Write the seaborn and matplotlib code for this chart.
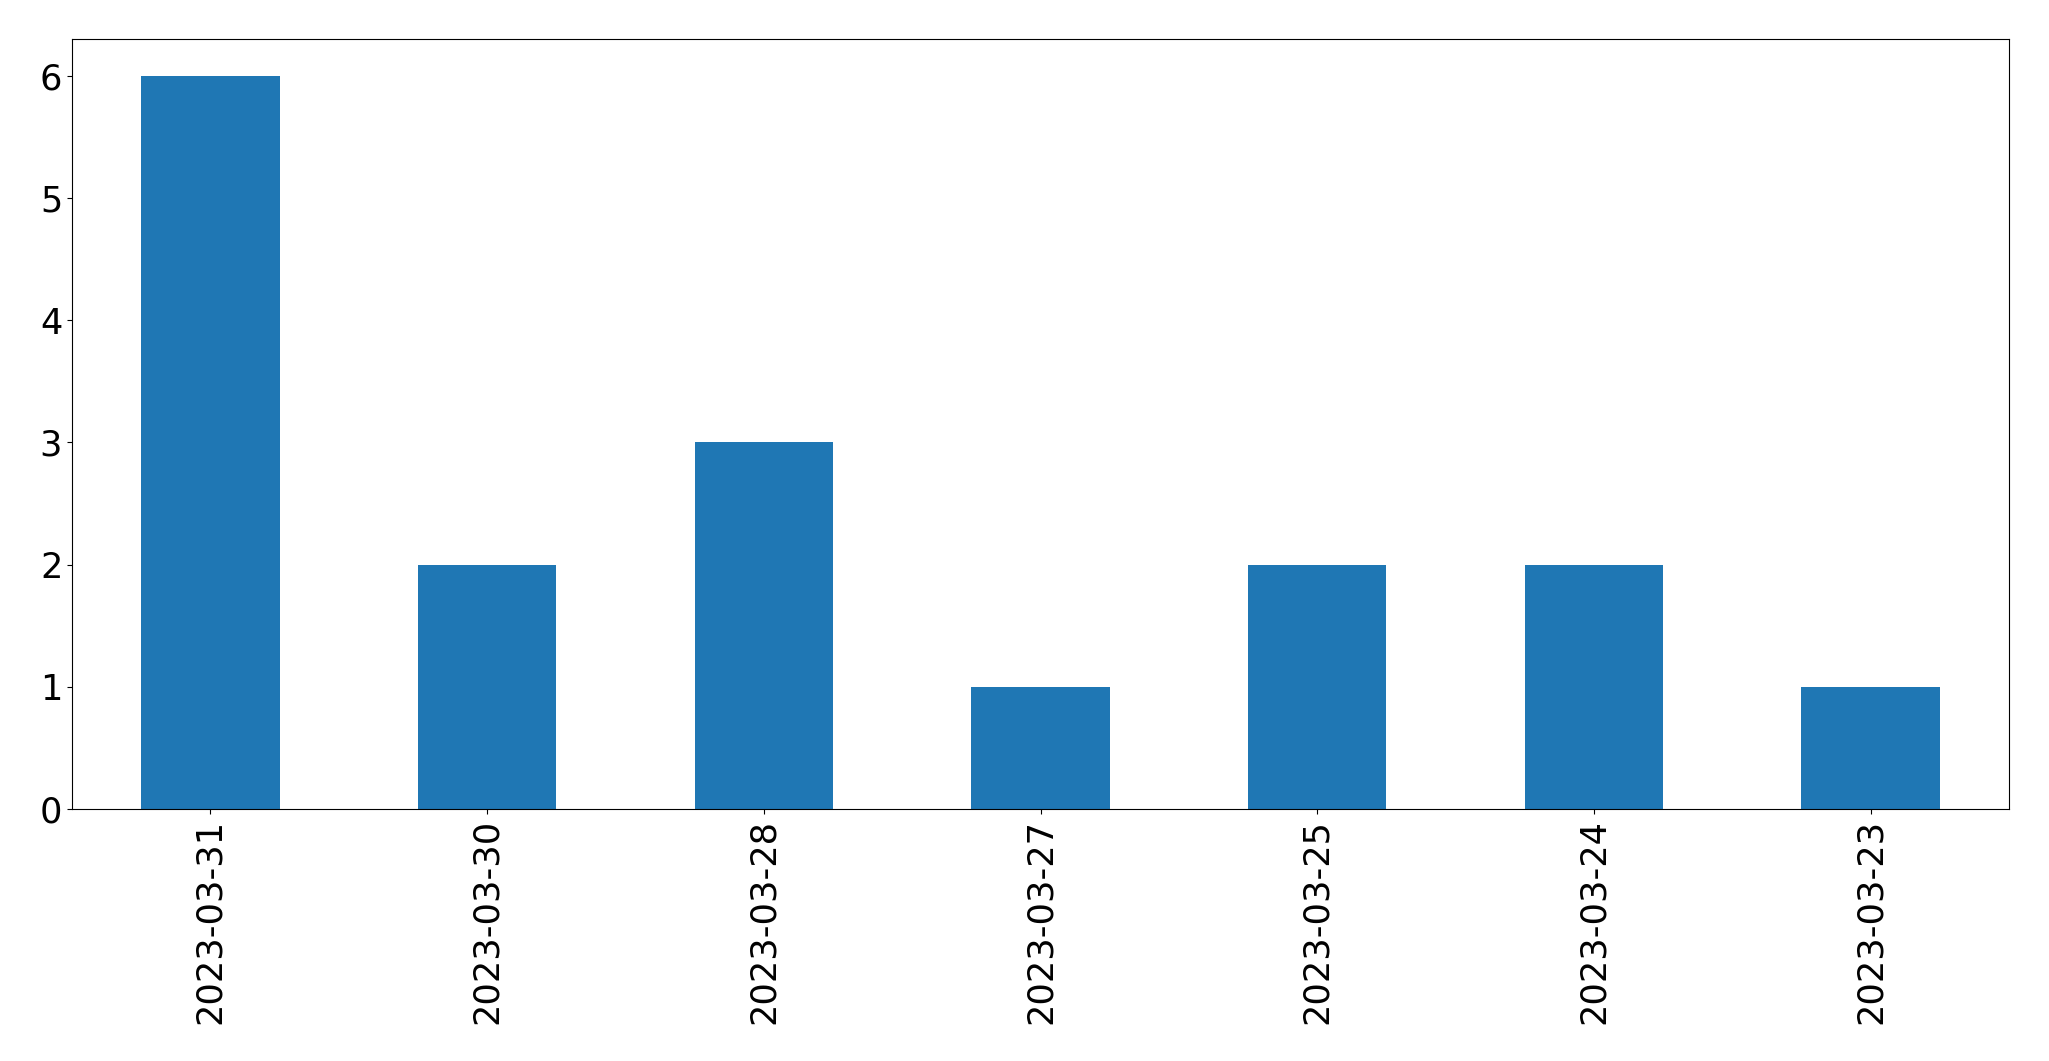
import pandas as pd
import numpy as np
import matplotlib
matplotlib.use('Agg')
import matplotlib.pyplot as plt
import seaborn as sb

fechas = ['2023-03-31', '2023-03-30', '2023-03-28', '2023-03-27',
          '2023-03-25', '2023-03-24', '2023-03-23']
cantidad = [6, 2, 3, 1, 2, 2, 1]

dataframe = pd.DataFrame({'fecha': fechas, 'cantidad': cantidad})

fig = plt.figure(figsize=(20.49, 10.61), dpi=100)
ax = fig.add_axes([72 / 2049, 1 - 809 / 1061, (2009 - 72) / 2049, (809 - 39) / 1061])

sb.barplot(data=dataframe, x='fecha', y='cantidad', order=fechas,
           color='#1f77b4', saturation=1, width=0.5, ax=ax)

ax.set_xlim(-0.5, len(fechas) - 0.5)
ax.set_ylim(0, max(cantidad) * 1.05)
ax.set_xlabel('')
ax.set_ylabel('')
ax.tick_params(axis='both', labelsize=25.3)
plt.setp(ax.get_xticklabels(), rotation=90)

fig.savefig('out.png', dpi=100)
